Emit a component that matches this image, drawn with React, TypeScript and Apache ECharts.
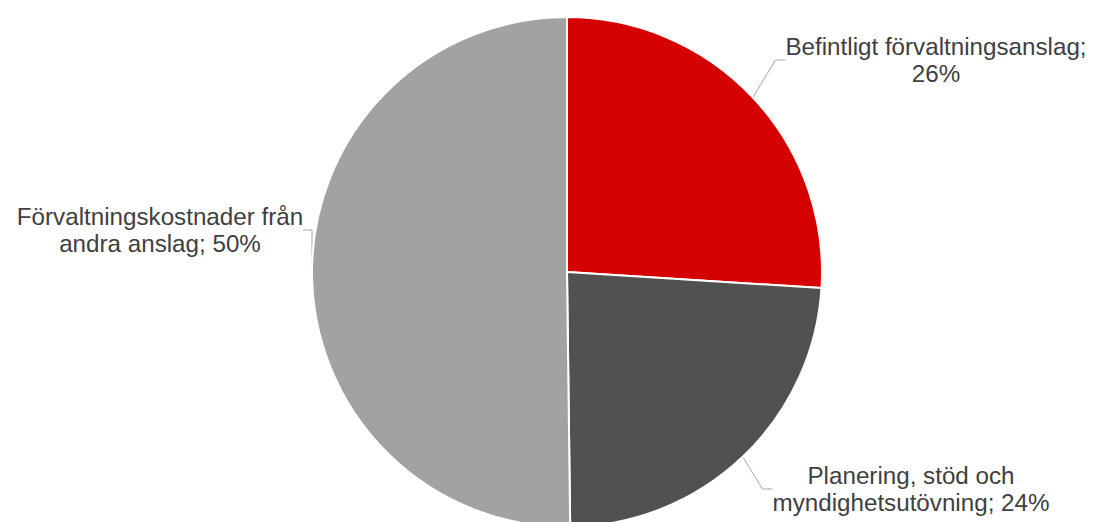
import React, { useEffect, useRef } from "react";
import * as echarts from "echarts";

const categories = [
  "Befintligt förvaltningsanslag",
  "Planering, stöd och myndighetsutövning",
  "Förvaltningskostnader från andra anslag",
];
const labelTexts = [
  "Befintligt förvaltningsanslag;\n26%",
  "Planering, stöd och\nmyndighetsutövning; 24%",
  "Förvaltningskostnader från\nandra anslag; 50%",
];
const values = [26, 23.8, 50.2];
const colors = ["#d50000", "#515151", "#a2a2a2"];
const labelPos = [
  [936, 60],
  [911, 489],
  [160, 230],
];

export default function App() {
  const ref = useRef<HTMLDivElement>(null);
  useEffect(() => {
    document.body.style.margin = "0";
    const chart = echarts.init(ref.current!, null, { renderer: "svg" });
    chart.setOption({
      animation: false,
      backgroundColor: "#ffffff",
      series: [
        {
          type: "pie",
          center: [567, 272],
          radius: 255,
          startAngle: 90,
          clockwise: true,
          data: categories.map((c, i) => ({
            name: c,
            value: values[i],
            itemStyle: { color: colors[i] },
            label: { formatter: labelTexts[i] },
          })),
          itemStyle: { borderColor: "#ffffff", borderWidth: 2 },
          label: {
            show: true,
            position: "outside",
            fontFamily: "Liberation Sans, Arial, sans-serif",
            fontSize: 24.2,
            lineHeight: 27,
            color: "#404040",
            align: "center",
            overflow: "none",
          },
          labelLine: {
            show: true,
            length: 10,
            length2: 10,
            lineStyle: { color: "#a6a6a6", width: 1 },
          },
          labelLayout: (params: any) => {
            const i = params.dataIndex;
            return {
              x: labelPos[i][0],
              y: labelPos[i][1],
              align: "center",
              verticalAlign: "middle",
            };
          },
        },
      ],
    });
    return () => chart.dispose();
  }, []);
  return <div ref={ref} style={{ width: 1093, height: 522 }} />;
}
